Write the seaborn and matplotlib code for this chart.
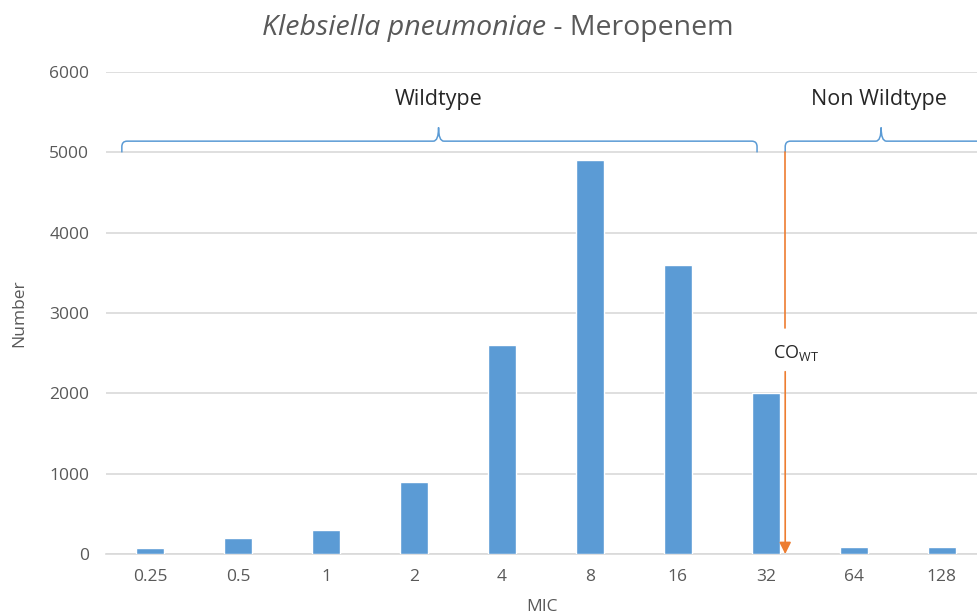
import numpy as np
import matplotlib
matplotlib.use("Agg")
import matplotlib.pyplot as plt
from matplotlib.path import Path
from matplotlib.patches import PathPatch
import seaborn as sns

# data
mic_labels = ["0.25", "0.5", "1", "2", "4", "8", "16", "32", "64", "128"]
counts = [80, 200, 300, 900, 2600, 4900, 3600, 2000, 90, 90]
y_ticks = [0, 1000, 2000, 3000, 4000, 5000, 6000]

BAR_COLOR = "#5B9BD5"
CUT_COLOR = "#ED7D31"
TEXT_COLOR = "#595959"
GRID_COLOR = "#D9D9D9"


def draw_brace(ax, x0, x1, xm, y_base, y_flat, y_tip, dx=0.06, dy=70):
    """Curly-ish brace like the Excel shape: ends down, tip up."""
    verts = [
        (x0, y_base), (x0, y_flat - dy),
        (x0, y_flat), (x0 + dx, y_flat),
        (xm - dx, y_flat),
        (xm, y_flat), (xm, y_tip),
        (xm, y_flat), (xm + dx, y_flat),
        (x1 - dx, y_flat),
        (x1, y_flat), (x1, y_flat - dy),
        (x1, y_base),
    ]
    codes = [Path.MOVETO, Path.LINETO,
             Path.CURVE3, Path.CURVE3,
             Path.LINETO,
             Path.CURVE3, Path.CURVE3,
             Path.CURVE3, Path.CURVE3,
             Path.LINETO,
             Path.CURVE3, Path.CURVE3,
             Path.LINETO]
    ax.add_patch(PathPatch(Path(verts, codes), fill=False, edgecolor=BAR_COLOR,
                           lw=1.1, clip_on=False))


sns.set_style("white")
plt.rcParams["font.family"] = ["Open Sans", "DejaVu Sans"]

fig = plt.figure(figsize=(9.77, 6.16), dpi=100)
ax = fig.add_axes([0.1085, 0.1006, 0.8915, 0.7824])

sns.barplot(x=mic_labels, y=counts, color=BAR_COLOR, width=0.32,
            saturation=1, ax=ax, zorder=3)

ax.set_xlim(-0.5, 9.4)
ax.set_ylim(0, 6000)
ax.set_yticks(y_ticks)
ax.set_yticklabels([str(t) for t in y_ticks])
ax.yaxis.grid(True, color=GRID_COLOR, lw=1.2, zorder=0)
ax.set_axisbelow(True)
for side in ["left", "right", "top"]:
    ax.spines[side].set_visible(False)
ax.spines["bottom"].set_color(GRID_COLOR)
ax.spines["bottom"].set_linewidth(1.2)
ax.tick_params(axis="both", length=0, labelsize=12.5, colors=TEXT_COLOR)
ax.tick_params(axis="x", pad=11)
ax.tick_params(axis="y", pad=12)

ax.set_xlabel("MIC", fontsize=12.5, color=TEXT_COLOR, labelpad=10)
ax.set_ylabel("Number", fontsize=12.5, color=TEXT_COLOR, labelpad=16)

# title with italic species name
split = 0.559
fig.text(split, 0.955, "Klebsiella pneumoniae", fontsize=20.5, style="italic",
         color=TEXT_COLOR, ha="right", va="center")
fig.text(split, 0.955, " - Meropenem", fontsize=20.5, color=TEXT_COLOR,
         ha="left", va="center")

# braces and labels
draw_brace(ax, -0.32, 6.9, 3.28, 5000, 5140, 5310)
draw_brace(ax, 7.22, 9.8, 8.31, 5000, 5140, 5310)
ax.text(3.28, 5660, "Wildtype", fontsize=15.5, color="#262626", ha="center", va="center")
ax.text(8.29, 5660, "Non Wildtype", fontsize=15.5, color="#262626", ha="center", va="center")

# cut-off line with arrow
cut_x = 7.22
ax.plot([cut_x, cut_x], [5000, 2810], color=CUT_COLOR, lw=1.2, zorder=4)
ax.annotate("", xy=(cut_x, 0), xytext=(cut_x, 2270),
            arrowprops=dict(arrowstyle="-|>,head_length=0.7,head_width=0.35",
                            color=CUT_COLOR, lw=1.2, shrinkA=0, shrinkB=0),
            zorder=4)
ax.text(cut_x + 0.12, 2500, "CO$_{\\mathregular{WT}}$", fontsize=13, color="#262626",
        ha="center", va="center")

fig.savefig("out.png", dpi=100)
